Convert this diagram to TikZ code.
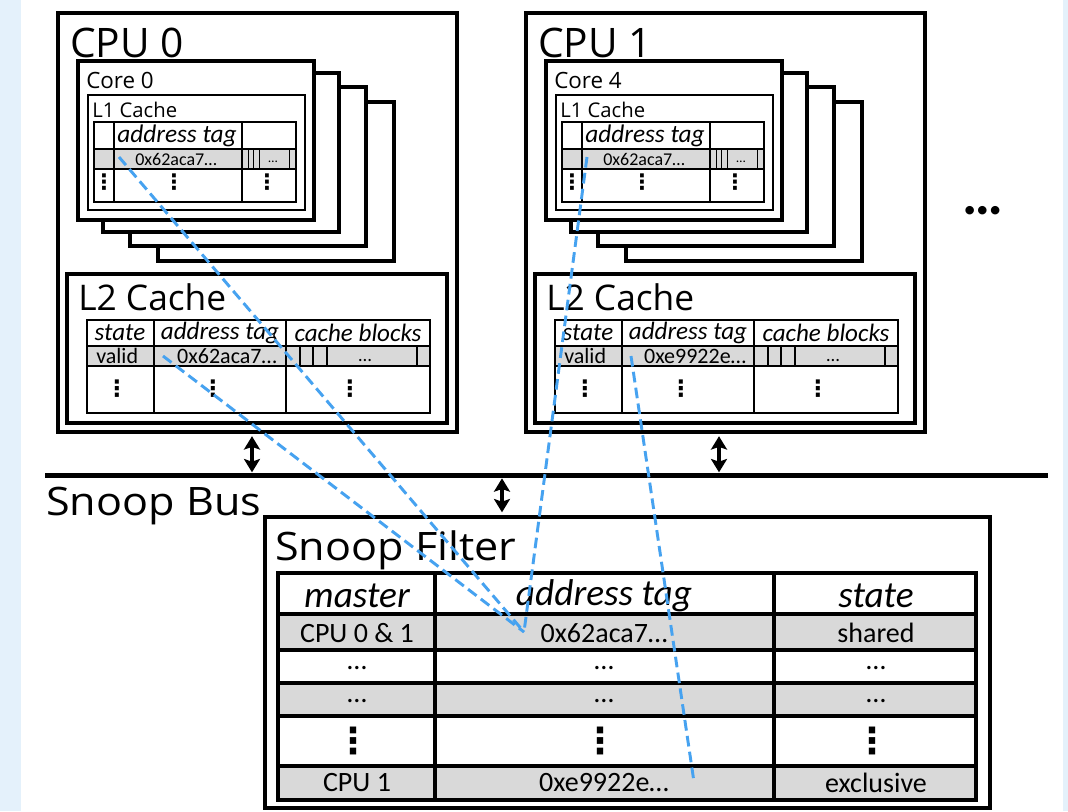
\documentclass[tikz,border=0pt]{standalone}
\usepackage{fontspec}
\setmainfont{Carlito}
\newfontfamily\titlefont{Open Sans}
\newfontfamily\titlewide[FakeStretch=1.1]{Open Sans}
\newfontfamily\symfont{DejaVu Sans}
\usetikzlibrary{arrows.meta,fit}

\definecolor{pageblue}{HTML}{E4F1FB}
\definecolor{rowgray}{HTML}{D9D9D9}
\definecolor{linkblue}{HTML}{46A2F0}

% vertical ellipsis glyph
\newcommand\vdts{{\symfont\bfseries ⋮}}

\tikzset{
  cpuframe/.style={draw, line width=2.3pt, inner sep=0pt, fill=white},
  coreframe/.style={draw, line width=2.5pt, inner sep=0pt, fill=white},
  l1frame/.style={draw, line width=1.1pt, inner sep=0pt},
  l2frame/.style={draw, line width=3pt, inner sep=0pt},
  sfframe/.style={draw, line width=3pt, inner sep=0pt, fill=white},
  ttl/.style={anchor=base west, inner sep=0pt, font=\titlefont\fontsize{#1}{#1}\selectfont},
  ttlw/.style={anchor=base west, inner sep=0pt, font=\titlewide\fontsize{#1}{#1}\selectfont},
  cellt/.style={inner sep=0pt, font=\fontsize{#1}{#1}\selectfont},
  dotst/.style={anchor=base, inner sep=0pt, font=\fontsize{#1}{#1}\selectfont},
  hcellt/.style={inner sep=0pt, font=\itshape\fontsize{#1}{#1}\selectfont},
  linkline/.style={draw=linkblue, line width=2.2pt, dash pattern=on 8pt off 4pt},
  busarrow/.style={line width=2.8pt,
    {Stealth[length=10pt,width=12pt,inset=2pt]}-{Stealth[length=10pt,width=12pt,inset=2pt]}},
}

% one processor package: #1 name prefix, #2 horizontal offset,
% #3 package label, #4 core label, #5 L2 address tag
\newcommand\cpublock[5]{%
\begin{scope}[shift={(#2,0)}]
  \node[cpuframe, fit={(58,13)(457,432)}] (#1) {};
  \node[ttl=30.5] (#1-name) at (70,57) {#3};
  % stacked cores, back to front
  \foreach \k/\dx/\dy in {4/80/41,3/52/26,2/25/12,1/0/0}
    \node[coreframe, fit={(78+\dx,61+\dy)(314+\dx,220+\dy)}] (#1-core\k) {};
  \node[ttl=16.8] (#1-corename) at (86,88) {#4};
  % L1 cache of the front core
  \node[l1frame, fit={(88,95)(305,210)}] (#1-l1) {};
  \node[ttl=15.2] (#1-l1name) at (92,117) {L1 Cache};
  \fill[rowgray] (94,149) rectangle (296,169);
  \draw[line width=1.1pt] (94,122) rectangle (296,202)
    (94,149) -- (296,149) (94,169) -- (296,169)
    (114,122) -- (114,202) (242,122) -- (242,202);
  \draw[line width=0.7pt] (248,149) -- (248,169) (253,149) -- (253,169)
    (259,149) -- (259,169) (289,149) -- (289,169);
  \node[hcellt=19] (#1-l1hdr) at (177,136) {address tag};
  \node[cellt=13.5] (#1-l1tag) at (176,159) {0x62aca7…};
  \node[dotst=10] (#1-l1blk) at (273,162) {…};
  \node[cellt=16] (#1-l1d1) at (104,182) {\vdts};
  \node[cellt=16] (#1-l1d2) at (174,182) {\vdts};
  \node[cellt=16] (#1-l1d3) at (267,182) {\vdts};
  \coordinate (#1-l1link) at (119,157);
  % L2 cache
  \node[l2frame, fit={(67,274)(447,423)}] (#1-l2) {};
  \node[ttl=26.5] (#1-l2name) at (78,310) {L2 Cache};
  \fill[rowgray] (87,346) rectangle (430,366);
  \draw[line width=1.5pt] (87,320) rectangle (430,413)
    (87,346) -- (430,346) (87,366) -- (430,366)
    (154,320) -- (154,413) (286,320) -- (286,413);
  \draw[line width=0.8pt] (300,346) -- (300,366) (313,346) -- (313,366)
    (327,346) -- (327,366) (417,346) -- (417,366);
  \node[hcellt=18.8] (#1-l2h1) at (120,333) {state};
  \node[hcellt=18.8] (#1-l2h2) at (220,333) {address tag};
  \node[hcellt=18.8] (#1-l2h3) at (358,333) {cache blocks};
  \node[cellt=16.5, anchor=west] (#1-l2state) at (96,356) {valid};
  \node[cellt=16.5] (#1-l2tag) at (227,356) {#5};
  \node[dotst=14] (#1-l2blk) at (365,361) {…};
  \node[cellt=17] (#1-l2d1) at (117,389) {\vdts};
  \node[cellt=17] (#1-l2d2) at (213,389) {\vdts};
  \node[cellt=17] (#1-l2d3) at (350,389) {\vdts};
  \coordinate (#1-l2link) at (163,356);
\end{scope}}

\begin{document}
\begin{tikzpicture}[x=0.75pt, y=-0.75pt]
  \useasboundingbox (0,0) rectangle (1068,811);
  \fill[pageblue] (0,0) rectangle (1068,811);
  \fill[white] (21,0) rectangle (1063,811);

  \cpublock{cpu0}{0}{CPU 0}{Core 0}{0x62aca7…}
  \cpublock{cpu1}{468}{CPU 1}{Core 4}{0xe9922e…}

  \node[anchor=base, inner sep=0pt, font=\bfseries\fontsize{43}{43}\selectfont] (more) at (983,214) {…};

  % snoop bus
  \coordinate (busL) at (45,475);
  \coordinate (busR) at (1048,475);
  \draw[line width=3.75pt] (busL) -- (busR);
  \node[ttlw=29.4] (busname) at (46,515) {Snoop Bus};

  % snoop filter
  \node[sfframe, fit={(265,517)(990,808)}] (sf) {};
  \node[ttlw=29.4] (sfname) at (275,560) {Snoop Filter};
  \fill[rowgray] (278,614) rectangle (976,650);
  \fill[rowgray] (278,683) rectangle (976,716);
  \fill[rowgray] (278,766) rectangle (976,800);
  \draw[line width=2.3pt]
    (278,614) -- (976,614) (278,650) -- (976,650) (278,683) -- (976,683)
    (278,716) -- (976,716) (278,766) -- (976,766)
    (435,573) -- (435,800) (774,573) -- (774,800);
  \draw[line width=3pt] (278,573) rectangle (976,800);
  \node[hcellt=28] (sf-h1) at (357,596) {master};
  \node[hcellt=28] (sf-h2) at (604,596) {address tag};
  \node[hcellt=28] (sf-h3) at (876,596) {state};
  \node[cellt=21] (sf-r1a) at (357,633) {CPU 0 \& 1};
  \node[cellt=21] (sf-r1b) at (604,633) {0x62aca7…};
  \node[cellt=21] (sf-r1c) at (876,633) {shared};
  \foreach \c/\x in {a/357,b/604,c/876}{
    \node[dotst=21] (sf-r2\c) at (\x,669) {…};
    \node[dotst=21] (sf-r3\c) at (\x,702) {…};
    \node[cellt=27] (sf-r4\c) at (\x-4,741) {\vdts};
  }
  \node[cellt=21] (sf-r5a) at (357,783) {CPU 1};
  \node[cellt=21] (sf-r5b) at (604,783) {0xe9922e…};
  \node[cellt=21] (sf-r5c) at (876,783) {exclusive};
  \coordinate (sf-shared) at (524,632);
  \coordinate (sf-excl) at (694,782);

  % bus connections
  \coordinate (tap0) at (252,0);
  \coordinate (tap1) at (502,0);
  \coordinate (tap2) at (719,0);
  \draw[busarrow, shorten <=2pt, shorten >=2pt] (cpu0.south -| tap0) -- (busL -| tap0);
  \draw[busarrow, shorten <=2pt, shorten >=2pt] (cpu1.south -| tap2) -- (busL -| tap2);
  \draw[busarrow, shorten <=2.5pt, shorten >=2pt] (busL -| tap1) -- (sf.north -| tap1);

  % copies of the same block tracked by the filter
  \draw[linkline] (cpu0-l1link) -- (sf-shared);
  \draw[linkline] (cpu0-l2link) -- (sf-shared);
  \draw[linkline] (cpu1-l1link) -- (sf-shared);
  \draw[linkline] (cpu1-l2link) -- (sf-excl);
\end{tikzpicture}
\end{document}
